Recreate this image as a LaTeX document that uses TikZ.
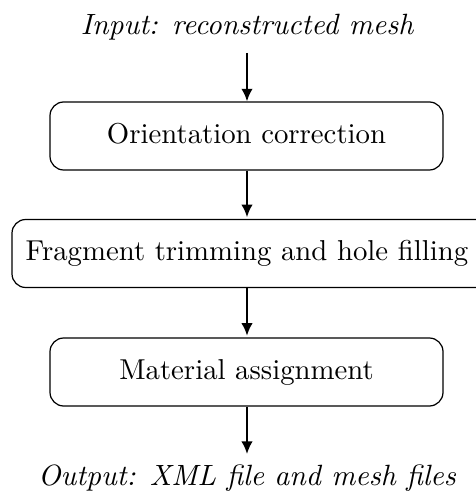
\documentclass[tikz,border=0pt]{standalone}
\usetikzlibrary{arrows.meta}
\begin{document}
\begin{tikzpicture}[x=0.365pt,y=-0.365pt,
  every node/.style={font=\fontsize{10.5pt}{12.6pt}\selectfont},
  lbl/.style={anchor=base,font=\fontsize{10.7pt}{12.8pt}\selectfont\itshape},
  stepbox/.style={draw,rounded corners=5pt,line width=0.45pt,inner sep=0pt,
    minimum height=68*0.365pt,text height=7.2pt,text depth=2pt},
  flow/.style={line width=0.75pt,-{Latex[length=4.6pt,width=4.2pt]}}]
\useasboundingbox (0,0) rectangle (475,492);
\node[lbl] (in) at (247,35) {Input: reconstructed mesh};
\coordinate (inb) at (247,53);
\node[stepbox,minimum width=393*0.365pt] (b1) at (246.5,136) {Orientation correction};
\node[stepbox,minimum width=478*0.365pt] (b2) at (251,253.5) {\hspace*{-3pt}Fragment trimming and hole filling};
\node[stepbox,minimum width=393*0.365pt] (b3) at (246.5,372) {Material assignment};
\node[lbl] (out) at (247,485) {Output: XML file and mesh files};
\coordinate (outt) at (247,454);
\draw[flow] (inb) -- (b1.north -| inb);
\draw[flow] (b1.south -| inb) -- ([yshift=0.6pt]b2.north -| inb);
\draw[flow] (b2.south -| inb) -- ([yshift=0.6pt]b3.north -| inb);
\draw[flow] (b3.south -| inb) -- (outt);
\end{tikzpicture}
\end{document}
